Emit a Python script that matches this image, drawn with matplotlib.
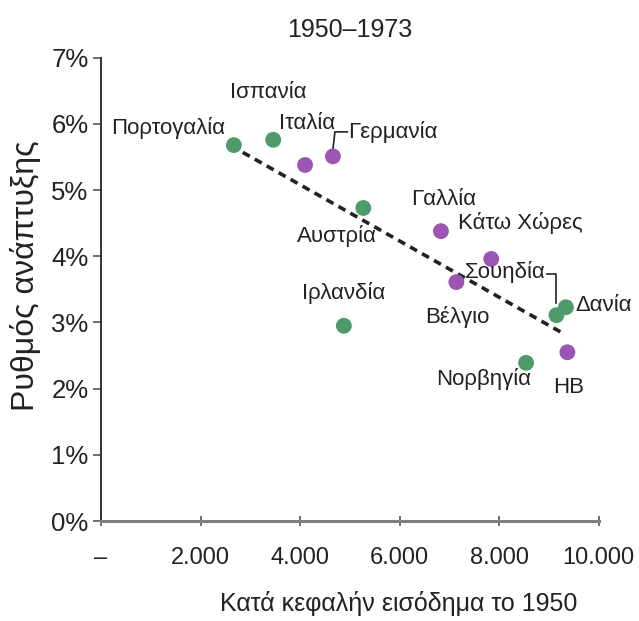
import matplotlib.pyplot as plt

plt.rcParams['font.family'] = ['Liberation Sans', 'DejaVu Sans']

# ======== Δεδομένα ========
countries = ["Πορτογαλία", "Ισπανία", "Ιταλία", "Γερμανία", "Αυστρία", "Γαλλία",
             "Κάτω Χώρες", "Βέλγιο", "Σουηδία", "Δανία", "Ιρλανδία", "Νορβηγία", "ΗΒ"]
income_1950 = [2670, 3460, 4100, 4660, 5270, 6830, 7840, 7140, 9150, 9340, 4880, 8540, 9370]
growth = [5.68, 5.76, 5.38, 5.51, 4.73, 4.38, 3.96, 3.61, 3.11, 3.23, 2.95, 2.39, 2.55]
group = ["g", "g", "p", "p", "g", "p", "p", "p", "g", "g", "g", "g", "p"]

trend_x = [2850, 9250]
trend_y = [5.57, 2.85]

# θέσεις ετικετών (x, y, στοίχιση)
label_pos = [
    (2490, 5.94, "right"), (3360, 6.48, "center"), (3580, 6.00, "left"),
    (4960, 5.88, "left"), (4740, 4.30, "center"), (6880, 4.86, "center"),
    (7180, 4.50, "left"), (7160, 3.08, "center"), (8940, 3.76, "right"),
    (9530, 3.26, "left"), (4880, 3.44, "center"), (7680, 2.14, "center"),
    (9390, 2.02, "center"),
]

colors = {"g": "#4f9a6d", "p": "#9b55b4"}

fig = plt.figure(figsize=(6.39, 6.21), dpi=100)
ax = fig.add_axes([0.158, 0.161, 0.779, 0.746])

ax.plot(trend_x, trend_y, ls=(0, (2.2, 1.6)), color="#222222", lw=2.6, zorder=2)
ax.scatter(income_1950, growth, s=130, c=[colors[g] for g in group],
           edgecolors="none", zorder=3)

for name, (lx, ly, ha) in zip(countries, label_pos):
    ax.text(lx, ly, name, ha=ha, va="center", fontsize=16, color="#222222")

# γραμμές οδηγοί
ax.plot([4660, 4700, 4950], [5.62, 5.88, 5.88], color="#222222", lw=1.2)
ax.plot([8960, 9150, 9150], [3.73, 3.73, 3.30], color="#222222", lw=1.2)

ax.set_xlim(0, 10000)
ax.set_ylim(0, 7)
ax.set_xticks([0, 2000, 4000, 6000, 8000, 10000])
ax.set_xticklabels(["–", "2.000", "4.000", "6.000", "8.000", "10.000"])
ax.set_yticks(range(8))
ax.set_yticklabels([f"{i}%" for i in range(8)])

for s in ["top", "right"]:
    ax.spines[s].set_visible(False)
ax.spines["left"].set_color("#333333")
ax.spines["left"].set_linewidth(1.4)
ax.spines["bottom"].set_color("#808080")
ax.spines["bottom"].set_linewidth(2.2)
ax.tick_params(axis="y", length=6, width=1.2, color="#555555", labelsize=18.5,
               labelcolor="#222222", pad=3)
ax.tick_params(axis="x", length=7, width=1.2, color="#555555", labelsize=17,
               labelcolor="#222222", pad=15, direction="inout")

ax.set_title("1950–1973", fontsize=18, color="#222222", pad=15)
fig.text(0.624, 0.028, "Κατά κεφαλήν εισόδημα το 1950", ha="center", va="center",
         fontsize=18, color="#222222")
fig.text(0.040, 0.556, "Ρυθμός ανάπτυξης", ha="center", va="center",
         rotation=90, fontsize=23, color="#222222")

fig.savefig("out.png", dpi=100)
